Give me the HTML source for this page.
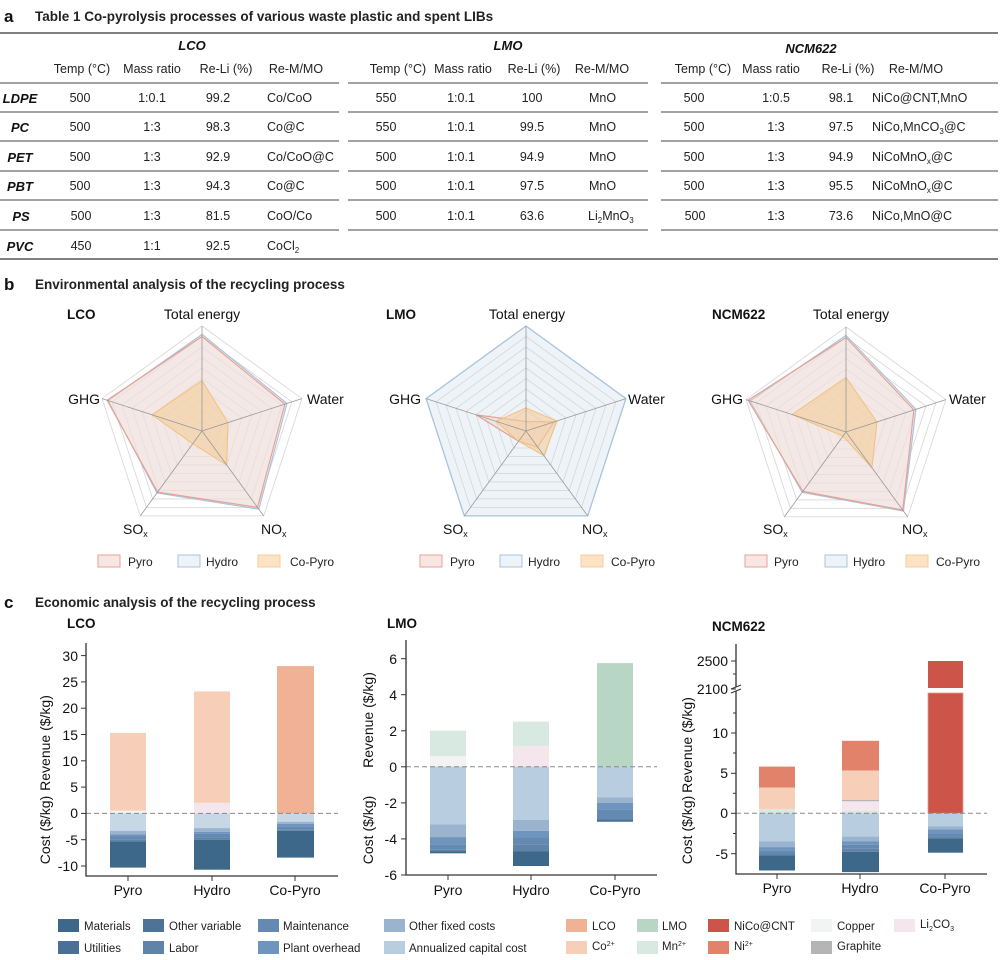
<!DOCTYPE html>
<html><head><meta charset="utf-8"><style>
body{margin:0;background:#fff}
svg{display:block;font-family:"Liberation Sans",Arial,sans-serif}
</style></head><body>
<svg width="1006" height="960" viewBox="0 0 1006 960" xmlns="http://www.w3.org/2000/svg">
<defs>
<polygon id="pent" points="0,-105 99.9,-32.4 61.7,84.9 -61.7,84.9 -99.9,-32.4"/>
<g id="grid">
 <g fill="none" stroke="#d4d4d4" stroke-width="1">
  <use href="#pent" transform="scale(0.1)" vector-effect="non-scaling-stroke"/>
 </g>
</g>
</defs>
<rect width="1006" height="960" fill="#fff"/>

<!-- ===== a: table ===== -->
<text x="4" y="22" font-size="17" font-weight="bold" fill="#111">a</text>
<text x="35" y="21" font-size="13.5" font-weight="bold" fill="#222">Table 1  Co-pyrolysis processes of various waste plastic and spent LIBs</text>
<line x1="0" y1="33" x2="998" y2="33" stroke="#333" stroke-width="1.3"/>
<g font-size="13" font-weight="bold" font-style="italic" text-anchor="middle" fill="#111">
<text x="192" y="50">LCO</text><text x="508" y="50">LMO</text><text x="811" y="53">NCM622</text>
</g>
<g font-size="12.5" text-anchor="middle" fill="#222">
<text x="82" y="73">Temp (°C)</text><text x="152" y="73">Mass ratio</text><text x="226" y="73">Re-Li (%)</text><text x="296" y="73">Re-M/MO</text>
<text x="398" y="73">Temp (°C)</text><text x="463" y="73">Mass ratio</text><text x="534" y="73">Re-Li (%)</text><text x="602" y="73">Re-M/MO</text>
<text x="703" y="73">Temp (°C)</text><text x="771" y="73">Mass ratio</text><text x="848" y="73">Re-Li (%)</text><text x="916" y="73">Re-M/MO</text>
</g>
<g stroke="#444" stroke-width="1">
<line x1="0" y1="83" x2="339" y2="83"/><line x1="348" y1="83" x2="648" y2="83"/><line x1="661" y1="83" x2="998" y2="83"/>
<line x1="0" y1="112" x2="339" y2="112"/><line x1="348" y1="112" x2="648" y2="112"/><line x1="661" y1="112" x2="998" y2="112"/>
<line x1="0" y1="141" x2="339" y2="141"/><line x1="348" y1="141" x2="648" y2="141"/><line x1="661" y1="141" x2="998" y2="141"/>
<line x1="0" y1="171" x2="339" y2="171"/><line x1="348" y1="171" x2="648" y2="171"/><line x1="661" y1="171" x2="998" y2="171"/>
<line x1="0" y1="200" x2="339" y2="200"/><line x1="348" y1="200" x2="648" y2="200"/><line x1="661" y1="200" x2="998" y2="200"/>
<line x1="0" y1="230" x2="339" y2="230"/><line x1="348" y1="230" x2="648" y2="230"/><line x1="661" y1="230" x2="998" y2="230"/>
<line x1="0" y1="259" x2="998" y2="259" stroke="#333" stroke-width="1.3"/>
</g>
<g font-size="13" font-weight="bold" font-style="italic" text-anchor="middle" fill="#111">
<text x="20" y="103">LDPE</text><text x="20" y="132">PC</text><text x="20" y="162">PET</text><text x="20" y="191">PBT</text><text x="21" y="221">PS</text><text x="20" y="251">PVC</text>
</g>
<g font-size="12.5" fill="#222">
<g text-anchor="middle">
<text x="80" y="102">500</text><text x="152" y="102">1:0.1</text><text x="218" y="102">99.2</text>
<text x="80" y="131">500</text><text x="152" y="131">1:3</text><text x="218" y="131">98.3</text>
<text x="80" y="161">500</text><text x="152" y="161">1:3</text><text x="218" y="161">92.9</text>
<text x="80" y="190">500</text><text x="152" y="190">1:3</text><text x="218" y="190">94.3</text>
<text x="81" y="220">500</text><text x="152" y="220">1:3</text><text x="218" y="220">81.5</text>
<text x="81" y="250">450</text><text x="152" y="250">1:1</text><text x="218" y="250">92.5</text>
<text x="386" y="102">550</text><text x="461" y="102">1:0.1</text><text x="532" y="102">100</text>
<text x="386" y="131">550</text><text x="461" y="131">1:0.1</text><text x="532" y="131">99.5</text>
<text x="386" y="161">500</text><text x="461" y="161">1:0.1</text><text x="532" y="161">94.9</text>
<text x="386" y="190">500</text><text x="461" y="190">1:0.1</text><text x="532" y="190">97.5</text>
<text x="386" y="220">500</text><text x="461" y="220">1:0.1</text><text x="532" y="220">63.6</text>
<text x="694" y="102">500</text><text x="776" y="102">1:0.5</text><text x="841" y="102">98.1</text>
<text x="694" y="131">500</text><text x="776" y="131">1:3</text><text x="841" y="131">97.5</text>
<text x="694" y="161">500</text><text x="776" y="161">1:3</text><text x="841" y="161">94.9</text>
<text x="694" y="190">500</text><text x="776" y="190">1:3</text><text x="841" y="190">95.5</text>
<text x="695" y="220">500</text><text x="776" y="220">1:3</text><text x="841" y="220">73.6</text>
</g>
<text x="267" y="102">Co/CoO</text><text x="267" y="131">Co@C</text><text x="267" y="161">Co/CoO@C</text><text x="267" y="190">Co@C</text><text x="267" y="220">CoO/Co</text><text x="267" y="250">CoCl<tspan font-size="8" dy="3">2</tspan></text>
<text x="589" y="102">MnO</text><text x="589" y="131">MnO</text><text x="589" y="161">MnO</text><text x="589" y="190">MnO</text><text x="588" y="220">Li<tspan font-size="8" dy="3">2</tspan><tspan dy="-3">MnO</tspan><tspan font-size="8" dy="3">3</tspan></text>
<text x="872" y="102">NiCo@CNT,MnO</text><text x="872" y="131">NiCo,MnCO<tspan font-size="8" dy="3">3</tspan><tspan dy="-3">@C</tspan></text>
<text x="872" y="161">NiCoMnO<tspan font-size="8" dy="3">x</tspan><tspan dy="-3">@C</tspan></text><text x="872" y="190">NiCoMnO<tspan font-size="8" dy="3">x</tspan><tspan dy="-3">@C</tspan></text>
<text x="872" y="220">NiCo,MnO@C</text>
</g>

<!-- ===== b: radar ===== -->
<text x="4" y="290" font-size="17" font-weight="bold" fill="#111">b</text>
<text x="35" y="289" font-size="13.5" font-weight="bold" fill="#222">Environmental analysis of the recycling process</text>

<!-- LCO radar -->
<g transform="translate(202,431)">
 <g fill="none" stroke="#d6d6d6" stroke-width="0.8">
  <polygon points="0,-10.5 9.99,-3.24 6.17,8.49 -6.17,8.49 -9.99,-3.24"/>
  <polygon points="0,-21 19.98,-6.48 12.34,16.98 -12.34,16.98 -19.98,-6.48"/>
  <polygon points="0,-31.5 29.97,-9.72 18.51,25.47 -18.51,25.47 -29.97,-9.72"/>
  <polygon points="0,-42 39.96,-12.96 24.68,33.96 -24.68,33.96 -39.96,-12.96"/>
  <polygon points="0,-52.5 49.95,-16.2 30.85,42.45 -30.85,42.45 -49.95,-16.2"/>
  <polygon points="0,-63 59.94,-19.44 37.02,50.94 -37.02,50.94 -59.94,-19.44"/>
  <polygon points="0,-73.5 69.93,-22.68 43.19,59.43 -43.19,59.43 -69.93,-22.68"/>
  <polygon points="0,-84 79.92,-25.92 49.36,67.92 -49.36,67.92 -79.92,-25.92"/>
  <polygon points="0,-94.5 89.91,-29.16 55.53,76.41 -55.53,76.41 -89.91,-29.16"/>
  <polygon points="0,-105 99.9,-32.4 61.7,84.9 -61.7,84.9 -99.9,-32.4"/>
 </g>
 <polygon points="0,-96.6 84.9,-27.5 56.8,78.1 -45,62 -93.9,-30.5" fill="#eef3f8" fill-opacity="0.5" stroke="#a9c3dc" stroke-width="1.2"/>
 <polygon points="0,-94.5 82.9,-26.9 55.5,76.4 -44.4,61.1 -94.9,-30.8" fill="#efd3cc" fill-opacity="0.45" stroke="#e8a193" stroke-width="1.2"/>
 <polygon points="0,-50.4 26,-8.4 24.7,34 -9.3,12.7 -50,-16.2" fill="#f4cd9a" fill-opacity="0.6" stroke="#f2c080" stroke-width="1"/>
 <g stroke="#999" stroke-width="0.8"><line x1="0" y1="0" x2="0" y2="-105"/><line x1="0" y1="0" x2="99.9" y2="-32.4"/><line x1="0" y1="0" x2="61.7" y2="84.9"/><line x1="0" y1="0" x2="-61.7" y2="84.9"/><line x1="0" y1="0" x2="-99.9" y2="-32.4"/></g>
</g>
<!-- LMO radar -->
<g transform="translate(526,431)">
 <polygon points="0,-105 99.9,-32.4 61.7,84.9 -61.7,84.9 -99.9,-32.4" fill="#eef3f8" stroke="none"/>
 <g fill="none" stroke="#d6d6d6" stroke-width="0.8">
  <polygon points="0,-10.5 9.99,-3.24 6.17,8.49 -6.17,8.49 -9.99,-3.24"/>
  <polygon points="0,-21 19.98,-6.48 12.34,16.98 -12.34,16.98 -19.98,-6.48"/>
  <polygon points="0,-31.5 29.97,-9.72 18.51,25.47 -18.51,25.47 -29.97,-9.72"/>
  <polygon points="0,-42 39.96,-12.96 24.68,33.96 -24.68,33.96 -39.96,-12.96"/>
  <polygon points="0,-52.5 49.95,-16.2 30.85,42.45 -30.85,42.45 -49.95,-16.2"/>
  <polygon points="0,-63 59.94,-19.44 37.02,50.94 -37.02,50.94 -59.94,-19.44"/>
  <polygon points="0,-73.5 69.93,-22.68 43.19,59.43 -43.19,59.43 -69.93,-22.68"/>
  <polygon points="0,-84 79.92,-25.92 49.36,67.92 -49.36,67.92 -79.92,-25.92"/>
  <polygon points="0,-94.5 89.91,-29.16 55.53,76.41 -55.53,76.41 -89.91,-29.16"/>
 </g>
 <polygon points="0,-105 99.9,-32.4 61.7,84.9 -61.7,84.9 -99.9,-32.4" fill="none" stroke="#a9c3dc" stroke-width="1.3"/>
 <polygon points="0,-9.5 28,-9.1 11.7,16.1 -7.4,10.2 -50,-16.2" fill="#efd3cc" fill-opacity="0.45" stroke="#e8a193" stroke-width="1.2"/>
 <polygon points="0,-23.1 31,-10 17.9,24.6 -7.4,10.2 -30,-9.7" fill="#f4cd9a" fill-opacity="0.6" stroke="#f2c080" stroke-width="1"/>
 <g stroke="#999" stroke-width="0.8"><line x1="0" y1="0" x2="0" y2="-105"/><line x1="0" y1="0" x2="99.9" y2="-32.4"/><line x1="0" y1="0" x2="61.7" y2="84.9"/><line x1="0" y1="0" x2="-61.7" y2="84.9"/><line x1="0" y1="0" x2="-99.9" y2="-32.4"/></g>
</g>
<!-- NCM radar -->
<g transform="translate(846,432)">
 <g fill="none" stroke="#d6d6d6" stroke-width="0.8">
  <polygon points="0,-10.5 9.99,-3.24 6.17,8.49 -6.17,8.49 -9.99,-3.24"/>
  <polygon points="0,-21 19.98,-6.48 12.34,16.98 -12.34,16.98 -19.98,-6.48"/>
  <polygon points="0,-31.5 29.97,-9.72 18.51,25.47 -18.51,25.47 -29.97,-9.72"/>
  <polygon points="0,-42 39.96,-12.96 24.68,33.96 -24.68,33.96 -39.96,-12.96"/>
  <polygon points="0,-52.5 49.95,-16.2 30.85,42.45 -30.85,42.45 -49.95,-16.2"/>
  <polygon points="0,-63 59.94,-19.44 37.02,50.94 -37.02,50.94 -59.94,-19.44"/>
  <polygon points="0,-73.5 69.93,-22.68 43.19,59.43 -43.19,59.43 -69.93,-22.68"/>
  <polygon points="0,-84 79.92,-25.92 49.36,67.92 -49.36,67.92 -79.92,-25.92"/>
  <polygon points="0,-94.5 89.91,-29.16 55.53,76.41 -55.53,76.41 -89.91,-29.16"/>
  <polygon points="0,-105 99.9,-32.4 61.7,84.9 -61.7,84.9 -99.9,-32.4"/>
 </g>
 <polygon points="0,-96.6 69.9,-22.7 57.4,79 -43.8,60.3 -95.9,-31.1" fill="#eef3f8" fill-opacity="0.5" stroke="#a9c3dc" stroke-width="1.2"/>
 <polygon points="0,-94.5 67.9,-22 56.8,78.1 -43.2,59.4 -97.9,-31.8" fill="#efd3cc" fill-opacity="0.45" stroke="#e8a193" stroke-width="1.2"/>
 <polygon points="0,-54.6 31,-10 25.9,35.7 -3.1,4.2 -53.9,-17.5" fill="#f4cd9a" fill-opacity="0.6" stroke="#f2c080" stroke-width="1"/>
 <g stroke="#999" stroke-width="0.8"><line x1="0" y1="0" x2="0" y2="-105"/><line x1="0" y1="0" x2="99.9" y2="-32.4"/><line x1="0" y1="0" x2="61.7" y2="84.9"/><line x1="0" y1="0" x2="-61.7" y2="84.9"/><line x1="0" y1="0" x2="-99.9" y2="-32.4"/></g>
</g>
<g font-size="14" fill="#111">
 <text x="67" y="319" font-weight="bold" font-size="13.5">LCO</text>
 <text x="202" y="319" text-anchor="middle">Total energy</text>
 <text x="100" y="404" text-anchor="end">GHG</text><text x="307" y="404">Water</text>
 <text x="123" y="534">SO<tspan font-size="9" dy="3">x</tspan></text><text x="261" y="534">NO<tspan font-size="9" dy="3">x</tspan></text>
 <text x="386" y="319" font-weight="bold" font-size="13.5">LMO</text>
 <text x="527" y="319" text-anchor="middle">Total energy</text>
 <text x="421" y="404" text-anchor="end">GHG</text><text x="628" y="404">Water</text>
 <text x="443" y="534">SO<tspan font-size="9" dy="3">x</tspan></text><text x="582" y="534">NO<tspan font-size="9" dy="3">x</tspan></text>
 <text x="712" y="319" font-weight="bold" font-size="13.5">NCM622</text>
 <text x="851" y="319" text-anchor="middle">Total energy</text>
 <text x="743" y="404" text-anchor="end">GHG</text><text x="949" y="404">Water</text>
 <text x="763" y="534">SO<tspan font-size="9" dy="3">x</tspan></text><text x="902" y="534">NO<tspan font-size="9" dy="3">x</tspan></text>
</g>
<g font-size="12" fill="#222">
 <rect x="98" y="555" width="22" height="12" fill="#f7e6e3" stroke="#e8a193"/><text x="128" y="566">Pyro</text>
 <rect x="178" y="555" width="22" height="12" fill="#eef3f8" stroke="#a9c3dc"/><text x="206" y="566">Hydro</text>
 <rect x="258" y="555" width="22" height="12" fill="#fbe3c3" stroke="#f4cd9a"/><text x="290" y="566">Co-Pyro</text>
 <rect x="420" y="555" width="22" height="12" fill="#f7e6e3" stroke="#e8a193"/><text x="450" y="566">Pyro</text>
 <rect x="500" y="555" width="22" height="12" fill="#eef3f8" stroke="#a9c3dc"/><text x="528" y="566">Hydro</text>
 <rect x="581" y="555" width="22" height="12" fill="#fbe3c3" stroke="#f4cd9a"/><text x="611" y="566">Co-Pyro</text>
 <rect x="745" y="555" width="22" height="12" fill="#f7e6e3" stroke="#e8a193"/><text x="774" y="566">Pyro</text>
 <rect x="825" y="555" width="22" height="12" fill="#eef3f8" stroke="#a9c3dc"/><text x="853" y="566">Hydro</text>
 <rect x="906" y="555" width="22" height="12" fill="#fbe3c3" stroke="#f4cd9a"/><text x="936" y="566">Co-Pyro</text>
</g>

<!-- ===== c: bars ===== -->
<text x="4" y="608" font-size="17" font-weight="bold" fill="#111">c</text>
<text x="35" y="607" font-size="13.5" font-weight="bold" fill="#222">Economic analysis of the recycling process</text>
<g font-size="13.5" font-weight="bold" fill="#111">
<text x="67" y="628">LCO</text><text x="387" y="628">LMO</text><text x="712" y="631">NCM622</text>
</g>

<!-- LCO bars -->
<g>
 <rect x="110" y="732.9" width="36" height="77.9" fill="#f7cfb8"/><rect x="110" y="810.8" width="36" height="2.6" fill="#f2f3f3"/>
 <rect x="110" y="813.4" width="36" height="17.4" fill="#c8d7e6"/><rect x="110" y="830.8" width="36" height="3.6" fill="#9ab3cf"/><rect x="110" y="834.4" width="36" height="2.1" fill="#6e95bd"/><rect x="110" y="836.5" width="36" height="2.7" fill="#6489b3"/><rect x="110" y="839.2" width="36" height="2.1" fill="#5f84a8"/><rect x="110" y="841.3" width="36" height="26.3" fill="#3e6889"/>
 <rect x="194" y="691.4" width="36" height="111.5" fill="#f7cfb8"/><rect x="194" y="802.9" width="36" height="10.5" fill="#f5e6ee"/>
 <rect x="194" y="813.4" width="36" height="14.7" fill="#c8d7e6"/><rect x="194" y="828.1" width="36" height="3.7" fill="#9ab3cf"/><rect x="194" y="831.8" width="36" height="2.1" fill="#6e95bd"/><rect x="194" y="833.9" width="36" height="3.2" fill="#6489b3"/><rect x="194" y="837.1" width="36" height="2.6" fill="#5f84a8"/><rect x="194" y="839.7" width="36" height="30" fill="#3e6889"/>
 <rect x="277" y="666.1" width="37" height="147.3" fill="#f0b195"/>
 <rect x="277" y="813.4" width="37" height="8.4" fill="#c8d7e6"/><rect x="277" y="821.8" width="37" height="2.1" fill="#9ab3cf"/><rect x="277" y="823.9" width="37" height="2.7" fill="#6e95bd"/><rect x="277" y="826.6" width="37" height="2.6" fill="#6489b3"/><rect x="277" y="829.2" width="37" height="1.6" fill="#5f84a8"/><rect x="277" y="830.8" width="37" height="26.8" fill="#3e6889"/>
 <line x1="86" y1="813.4" x2="338" y2="813.4" stroke="#888" stroke-dasharray="5,3"/>
 <path d="M86 643 V876 H338" fill="none" stroke="#333" stroke-width="1.3"/>
 <g stroke="#333"><line x1="81" y1="655.6" x2="86" y2="655.6"/><line x1="81" y1="681.9" x2="86" y2="681.9"/><line x1="81" y1="708.2" x2="86" y2="708.2"/><line x1="81" y1="734.5" x2="86" y2="734.5"/><line x1="81" y1="760.8" x2="86" y2="760.8"/><line x1="81" y1="787.1" x2="86" y2="787.1"/><line x1="81" y1="813.4" x2="86" y2="813.4"/><line x1="81" y1="839.7" x2="86" y2="839.7"/><line x1="81" y1="866" x2="86" y2="866"/>
 <line x1="128" y1="876" x2="128" y2="881"/><line x1="212" y1="876" x2="212" y2="881"/><line x1="295" y1="876" x2="295" y2="881"/></g>
 <g font-size="14" fill="#111" text-anchor="end"><text x="78" y="661">30</text><text x="78" y="687">25</text><text x="78" y="713">20</text><text x="78" y="740">15</text><text x="78" y="766">10</text><text x="78" y="792">5</text><text x="78" y="818">0</text><text x="78" y="845">-5</text><text x="78" y="871">-10</text></g>
 <g font-size="14" fill="#111" text-anchor="middle"><text x="128" y="895">Pyro</text><text x="212" y="895">Hydro</text><text x="295" y="895">Co-Pyro</text>
 <text transform="translate(50,743) rotate(-90)">Revenue ($/kg)</text><text transform="translate(50,830) rotate(-90)">Cost ($/kg)</text></g>
</g>

<!-- LMO bars -->
<g>
 <rect x="430" y="730.7" width="36" height="25.3" fill="#d8e9e2"/><rect x="430" y="756" width="36" height="10.8" fill="#f2f3f3"/>
 <rect x="430" y="766.8" width="36" height="57.7" fill="#b9cde0"/><rect x="430" y="824.5" width="36" height="12.6" fill="#9ab3cf"/><rect x="430" y="837.1" width="36" height="7.2" fill="#6e95bd"/><rect x="430" y="844.3" width="36" height="5.4" fill="#6489b3"/><rect x="430" y="849.7" width="36" height="1.8" fill="#5f84a8"/><rect x="430" y="851.5" width="36" height="1.8" fill="#3e6889"/>
 <rect x="513" y="721.7" width="36" height="24.4" fill="#d8e9e2"/><rect x="513" y="746.1" width="36" height="20.7" fill="#f5e6ee"/>
 <rect x="513" y="766.8" width="36" height="53.2" fill="#b9cde0"/><rect x="513" y="820" width="36" height="10.8" fill="#9ab3cf"/><rect x="513" y="830.8" width="36" height="6.3" fill="#6e95bd"/><rect x="513" y="837.1" width="36" height="7.2" fill="#6489b3"/><rect x="513" y="844.3" width="36" height="7.2" fill="#5f84a8"/><rect x="513" y="851.5" width="36" height="14.5" fill="#3e6889"/>
 <rect x="597" y="663.1" width="36" height="103.7" fill="#b7d7c4"/>
 <rect x="597" y="766.8" width="36" height="30.7" fill="#b9cde0"/><rect x="597" y="797.5" width="36" height="5.4" fill="#9ab3cf"/><rect x="597" y="802.9" width="36" height="6.3" fill="#6e95bd"/><rect x="597" y="809.2" width="36" height="9.9" fill="#6489b3"/><rect x="597" y="819.1" width="36" height="2.7" fill="#4e7399"/>
 <line x1="406" y1="766.8" x2="657" y2="766.8" stroke="#888" stroke-dasharray="5,3"/>
 <path d="M406 640 V875 H657" fill="none" stroke="#333" stroke-width="1.3"/>
 <g stroke="#333"><line x1="401" y1="658.7" x2="406" y2="658.7"/><line x1="401" y1="694.7" x2="406" y2="694.7"/><line x1="401" y1="730.8" x2="406" y2="730.8"/><line x1="401" y1="766.8" x2="406" y2="766.8"/><line x1="401" y1="802.9" x2="406" y2="802.9"/><line x1="401" y1="838.9" x2="406" y2="838.9"/><line x1="401" y1="875" x2="406" y2="875"/>
 <line x1="448" y1="875" x2="448" y2="880"/><line x1="531" y1="875" x2="531" y2="880"/><line x1="615" y1="875" x2="615" y2="880"/></g>
 <g font-size="14" fill="#111" text-anchor="end"><text x="397" y="664">6</text><text x="397" y="700">4</text><text x="397" y="736">2</text><text x="397" y="772">0</text><text x="397" y="808">-2</text><text x="397" y="844">-4</text><text x="397" y="880">-6</text></g>
 <g font-size="14" fill="#111" text-anchor="middle"><text x="448" y="895">Pyro</text><text x="531" y="895">Hydro</text><text x="615" y="895">Co-Pyro</text>
 <text transform="translate(373,720) rotate(-90)">Revenue ($/kg)</text><text transform="translate(373,830) rotate(-90)">Cost ($/kg)</text></g>
</g>

<!-- NCM bars -->
<g>
 <rect x="759" y="766.6" width="36" height="20.9" fill="#e3826a"/><rect x="759" y="787.5" width="36" height="21.8" fill="#f7cfb8"/><rect x="759" y="809.3" width="36" height="4" fill="#d8e9e2"/>
 <rect x="759" y="813.3" width="36" height="28.2" fill="#b9cde0"/><rect x="759" y="841.5" width="36" height="5.6" fill="#9ab3cf"/><rect x="759" y="847.1" width="36" height="3.2" fill="#6e95bd"/><rect x="759" y="850.3" width="36" height="3.2" fill="#6489b3"/><rect x="759" y="853.5" width="36" height="1.7" fill="#5f84a8"/><rect x="759" y="855.2" width="36" height="15.3" fill="#3e6889"/>
 <rect x="842" y="740.8" width="37" height="29.8" fill="#e3826a"/><rect x="842" y="770.6" width="37" height="29.8" fill="#f7cfb8"/><rect x="842" y="800.4" width="37" height="10.5" fill="#f5e6ee"/><rect x="842" y="800" width="37" height="1.2" fill="#b5b5b5"/><rect x="842" y="810.9" width="37" height="2.4" fill="#d8e9e2"/>
 <rect x="842" y="813.3" width="37" height="23.3" fill="#b9cde0"/><rect x="842" y="836.6" width="37" height="4.9" fill="#9ab3cf"/><rect x="842" y="841.5" width="37" height="3.2" fill="#6e95bd"/><rect x="842" y="844.7" width="37" height="4" fill="#6489b3"/><rect x="842" y="848.7" width="37" height="3.2" fill="#5f84a8"/><rect x="842" y="851.9" width="37" height="20.2" fill="#3e6889"/>
 <rect x="928" y="661" width="35" height="27" fill="#cd5448"/><rect x="928" y="693" width="35" height="120.3" fill="#cd5448" stroke="#e39a90" stroke-width="0.8"/>
 <rect x="928" y="813.3" width="35" height="12.9" fill="#b9cde0"/><rect x="928" y="826.2" width="35" height="3.2" fill="#9ab3cf"/><rect x="928" y="829.4" width="35" height="4" fill="#6e95bd"/><rect x="928" y="833.4" width="35" height="3.2" fill="#6489b3"/><rect x="928" y="836.6" width="35" height="1.7" fill="#5f84a8"/><rect x="928" y="838.3" width="35" height="14.4" fill="#3e6889"/>
 <line x1="736" y1="813.3" x2="987" y2="813.3" stroke="#888" stroke-dasharray="5,3"/>
 <path d="M736 644 V874 H987" fill="none" stroke="#333" stroke-width="1.3"/>
 <rect x="731" y="687" width="10" height="4" fill="#fff"/>
 <g stroke="#333"><line x1="731" y1="689" x2="741" y2="685"/><line x1="731" y1="693" x2="741" y2="689"/>
 <line x1="731" y1="661" x2="736" y2="661"/><line x1="731" y1="689" x2="736" y2="689"/><line x1="731" y1="733" x2="736" y2="733"/><line x1="731" y1="773.3" x2="736" y2="773.3"/><line x1="731" y1="813.3" x2="736" y2="813.3"/><line x1="731" y1="853.7" x2="736" y2="853.7"/>
 <line x1="733" y1="713" x2="736" y2="713"/><line x1="733" y1="753" x2="736" y2="753"/><line x1="733" y1="793.3" x2="736" y2="793.3"/><line x1="733" y1="833.5" x2="736" y2="833.5"/><line x1="733" y1="674" x2="736" y2="674"/>
 <line x1="777" y1="874" x2="777" y2="879"/><line x1="860" y1="874" x2="860" y2="879"/><line x1="945" y1="874" x2="945" y2="879"/></g>
 <g font-size="14" fill="#111" text-anchor="end"><text x="728" y="666">2500</text><text x="728" y="694">2100</text><text x="728" y="738">10</text><text x="728" y="778">5</text><text x="728" y="818">0</text><text x="728" y="859">-5</text></g>
 <g font-size="14" fill="#111" text-anchor="middle"><text x="777" y="893">Pyro</text><text x="860" y="893">Hydro</text><text x="945" y="893">Co-Pyro</text>
 <text transform="translate(692,745) rotate(-90)">Revenue ($/kg)</text><text transform="translate(692,830) rotate(-90)">Cost ($/kg)</text></g>
</g>

<!-- legend -->
<g font-size="11.5" fill="#222">
 <rect x="58" y="919" width="21" height="13" fill="#3e6889"/><text x="84" y="930">Materials</text>
 <rect x="143" y="919" width="21" height="13" fill="#4e7399"/><text x="169" y="930">Other variable</text>
 <rect x="258" y="919" width="21" height="13" fill="#6489b3"/><text x="283" y="930">Maintenance</text>
 <rect x="384" y="919" width="21" height="13" fill="#9ab3cf"/><text x="409" y="930">Other fixed costs</text>
 <rect x="566" y="919" width="21" height="13" fill="#f0b195"/><text x="592" y="930">LCO</text>
 <rect x="637" y="919" width="21" height="13" fill="#b7d7c4"/><text x="662" y="930">LMO</text>
 <rect x="708" y="919" width="21" height="13" fill="#cd5448"/><text x="734" y="930">NiCo@CNT</text>
 <rect x="811" y="919" width="21" height="13" fill="#f2f3f3"/><text x="837" y="930">Copper</text>
 <rect x="894" y="919" width="21" height="13" fill="#f5e6ee"/><text x="920" y="928">Li<tspan font-size="7" dy="3">2</tspan><tspan dy="-3">CO</tspan><tspan font-size="7" dy="3">3</tspan></text>
 <rect x="58" y="941" width="21" height="13" fill="#4a7096"/><text x="84" y="952">Utilities</text>
 <rect x="143" y="941" width="21" height="13" fill="#5f84a8"/><text x="169" y="952">Labor</text>
 <rect x="258" y="941" width="21" height="13" fill="#6e95bd"/><text x="283" y="952">Plant overhead</text>
 <rect x="384" y="941" width="21" height="13" fill="#b9cde0"/><text x="409" y="952">Annualized capital cost</text>
 <rect x="566" y="941" width="21" height="13" fill="#f7cfb8"/><text x="592" y="950">Co<tspan font-size="7" dy="-4">2+</tspan></text>
 <rect x="637" y="941" width="21" height="13" fill="#d8e9e2"/><text x="662" y="950">Mn<tspan font-size="7" dy="-4">2+</tspan></text>
 <rect x="708" y="941" width="21" height="13" fill="#e3826a"/><text x="734" y="950">Ni<tspan font-size="7" dy="-4">2+</tspan></text>
 <rect x="811" y="941" width="21" height="13" fill="#b5b5b5"/><text x="837" y="950">Graphite</text>
</g>
</svg>
</body></html>
